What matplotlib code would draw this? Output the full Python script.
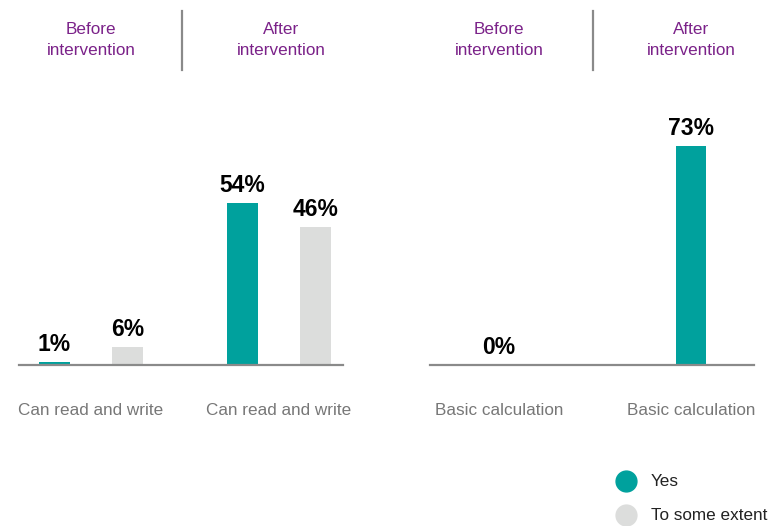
import matplotlib
matplotlib.use("Agg")
import matplotlib.pyplot as plt
from matplotlib.lines import Line2D

plt.rcParams['font.family'] = ['Liberation Sans', 'DejaVu Sans']

# Data
periods = ["Before\nintervention", "After\nintervention"]
read_write_label = "Can read and write"
read_write_yes = [1, 54]
read_write_some = [6, 46]
calc_label = "Basic calculation"
calc_yes = [0, 73]
series_names = ["Yes", "To some extent"]

TEAL = "#00A19D"
LIGHT = "#DCDDDC"
PURPLE = "#7B2289"
AXIS_GRAY = "#8A8A8A"
LABEL_GRAY = "#777777"

W, H = 772, 526
fig = plt.figure(figsize=(W / 100, H / 100), dpi=100)


def px_axes(x0, x1, y_base, height):
    return fig.add_axes([x0 / W, (H - y_base) / H, (x1 - x0) / W, height / H])


def style(ax):
    for s in ax.spines.values():
        s.set_visible(False)
    ax.set_xticks([])
    ax.set_yticks([])
    ax.set_ylim(0, 100)
    ax.axhline(0, color=AXIS_GRAY, lw=1.6, clip_on=False, zorder=3)


VAL_FS = 16.5
CAT_FS = 12.3


def value_label(ax, x, v):
    ax.annotate(f"{v}%", (x, v), xytext=(0, 8), textcoords="offset points",
                ha="center", va="baseline", fontsize=VAL_FS, fontweight="bold",
                color="black")


# Left panel: reading and writing
ax1 = px_axes(19, 343, 365, 300)
style(ax1)
ax1.set_xlim(-0.383, 1.340)
off, bw = 0.194, 0.165
xs = [0, 1]
ax1.bar([x - off for x in xs], read_write_yes, width=bw, color=TEAL, zorder=2)
ax1.bar([x + off for x in xs], read_write_some, width=bw, color=LIGHT, zorder=2)
for x, v in zip(xs, read_write_yes):
    value_label(ax1, x - off, v)
for x, v in zip(xs, read_write_some):
    value_label(ax1, x + off, v)
for x in xs:
    ax1.annotate(read_write_label, (x, 0), xytext=(0, -33), textcoords="offset points",
                 ha="center", va="center", fontsize=CAT_FS, color=LABEL_GRAY)

# Right panel: basic calculation
ax2 = px_axes(430, 754, 365, 300)
style(ax2)
ax2.set_xlim(-0.359, 1.328)
bw2 = 0.161
ax2.bar(xs, calc_yes, width=bw2, color=TEAL, zorder=2)
for x, v in zip(xs, calc_yes):
    value_label(ax2, x, v)
    ax2.annotate(calc_label, (x, 0), xytext=(0, -33), textcoords="offset points",
                 ha="center", va="center", fontsize=CAT_FS, color=LABEL_GRAY)

# Period headers with dividers
for hx, lbl in zip([91, 281, 499, 691], periods * 2):
    fig.text(hx / W, 1 - 39.5 / H, lbl, ha="center", va="center", fontsize=CAT_FS,
             color=PURPLE, linespacing=1.5)
for dx in [182, 593]:
    fig.add_artist(Line2D([dx / W, dx / W], [1 - 11 / H, 1 - 70 / H],
                          color=AXIS_GRAY, lw=1.6))

# Legend
for ly, name, col in zip([481, 515], series_names, [TEAL, LIGHT]):
    fig.add_artist(Line2D([626 / W], [1 - ly / H], marker="o", markersize=15,
                          color=col, linestyle="none"))
    fig.text(651 / W, 1 - ly / H, name, ha="left", va="center", fontsize=CAT_FS,
             color="#222222")

fig.savefig("out.png", dpi=100)
